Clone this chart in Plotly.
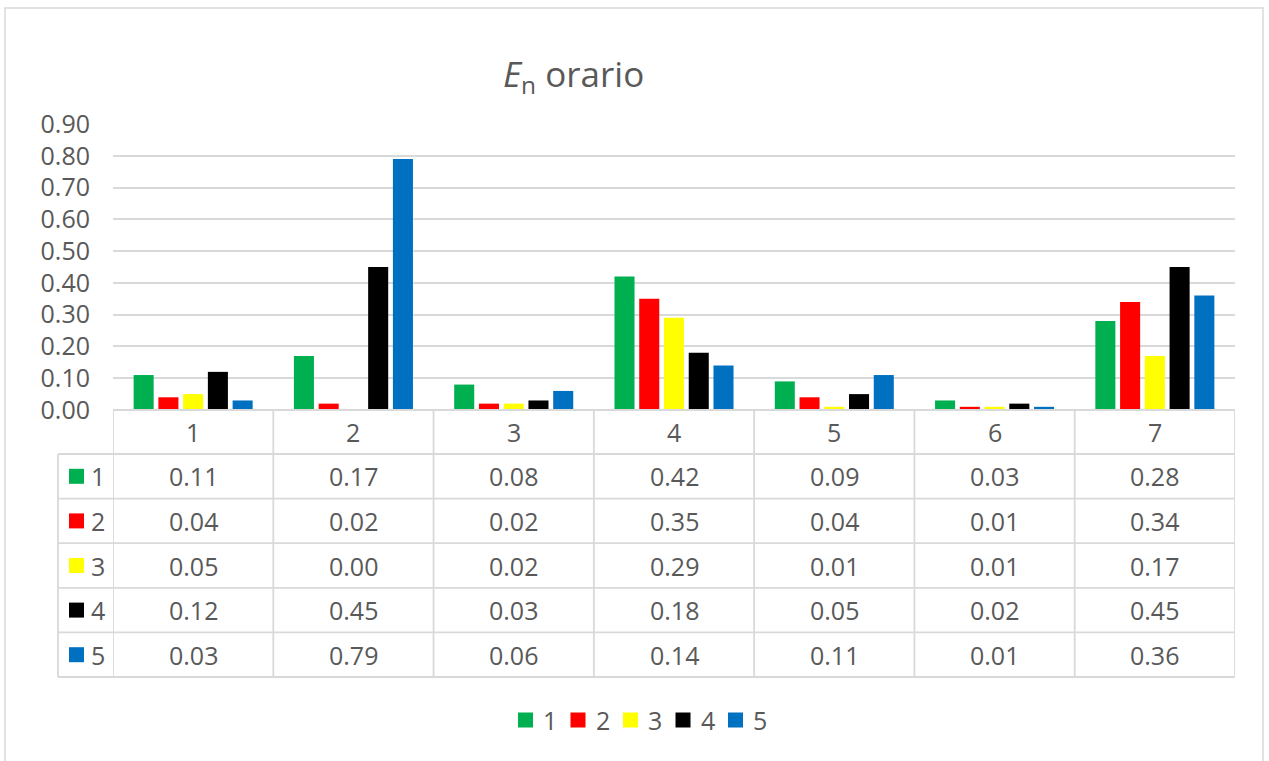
import plotly.graph_objects as go

# ---- data ----
categories = ["1", "2", "3", "4", "5", "6", "7"]
series_names = ["1", "2", "3", "4", "5"]
s1 = [0.11, 0.17, 0.08, 0.42, 0.09, 0.03, 0.28]
s2 = [0.04, 0.02, 0.02, 0.35, 0.04, 0.01, 0.34]
s3 = [0.05, 0.00, 0.02, 0.29, 0.01, 0.01, 0.17]
s4 = [0.12, 0.45, 0.03, 0.18, 0.05, 0.02, 0.45]
s5 = [0.03, 0.79, 0.06, 0.14, 0.11, 0.01, 0.36]
series_values = [s1, s2, s3, s4, s5]
colors = ["#00B050", "#FF0000", "#FFFF00", "#000000", "#0070C0"]
y_ticks = [0.0, 0.1, 0.2, 0.3, 0.4, 0.5, 0.6, 0.7, 0.8, 0.9]

# ---- layout geometry (pixels) ----
W, H = 1269, 761
L, R, T, B = 113, 1235, 124, 410
FONT = "Open Sans"
TXT = "#595959"
LINE = "#d9d9d9"
FS = 25


def px(x):
    return (x - L) / (R - L)


def py(y):
    return (B - y) / (B - T)


def label(x, y, text, size=FS, xref="paper", xanchor="center"):
    return dict(xref=xref, yref="paper", x=x, y=y, text=text, showarrow=False,
                xanchor=xanchor, yanchor="middle",
                font=dict(family=FONT, size=size, color=TXT))


fig = go.Figure()
for name, vals, col in zip(series_names, series_values, colors):
    fig.add_trace(go.Bar(x=categories, y=vals, name=name, marker_color=col,
                         marker_line_width=0, showlegend=False))

shapes = []
annotations = []

# outer border
shapes.append(dict(type="rect", xref="paper", yref="paper",
                   x0=px(5), x1=px(1263), y0=py(775), y1=py(8),
                   line=dict(color=LINE, width=1.5), layer="below"))

# table geometry
header_top, header_bot = 410, 454
row_bounds = [454, 498.6, 543.2, 587.8, 632.4, 677]
legend_left = 58

# horizontal table lines
shapes.append(dict(type="line", xref="paper", yref="paper", x0=0, x1=1,
                   y0=py(header_top), y1=py(header_top),
                   line=dict(color=LINE, width=1.8)))
for yb in row_bounds:
    shapes.append(dict(type="line", xref="paper", yref="paper",
                       x0=px(legend_left), x1=1, y0=py(yb), y1=py(yb),
                       line=dict(color=LINE, width=1.8)))
# vertical table lines
for i in range(len(categories) + 1):
    shapes.append(dict(type="line", xref="x", yref="paper",
                       x0=i - 0.5, x1=i - 0.5,
                       y0=py(header_top), y1=py(row_bounds[-1]),
                       line=dict(color=LINE, width=1.8)))
shapes.append(dict(type="line", xref="paper", yref="paper",
                   x0=px(legend_left), x1=px(legend_left),
                   y0=py(row_bounds[0]), y1=py(row_bounds[-1]),
                   line=dict(color=LINE, width=1.8)))

# header labels
for i, c in enumerate(categories):
    annotations.append(label(i, py((header_top + header_bot) / 2), c, xref="x"))

# table rows
for r, (name, vals, col) in enumerate(zip(series_names, series_values, colors)):
    yc = (row_bounds[r] + row_bounds[r + 1]) / 2
    shapes.append(dict(type="rect", xref="paper", yref="paper",
                       x0=px(69), x1=px(84), y0=py(yc + 7.5), y1=py(yc - 7.5),
                       fillcolor=col, line=dict(width=0)))
    annotations.append(label(px(98), py(yc), name))
    for i, v in enumerate(vals):
        annotations.append(label(i, py(yc), f"{v:.2f}", xref="x"))

# bottom legend
leg_y = 720
leg_x0 = 518
pitch = 52.5
for k, (name, col) in enumerate(zip(series_names, colors)):
    x0 = leg_x0 + k * pitch
    shapes.append(dict(type="rect", xref="paper", yref="paper",
                       x0=px(x0), x1=px(x0 + 15), y0=py(leg_y + 7.5), y1=py(leg_y - 7.5),
                       fillcolor=col, line=dict(width=0)))
    annotations.append(label(px(x0 + 23), py(leg_y), name, xanchor="left"))

# title
annotations.append(label(px(573), py(76), "<i>E</i><sub>n</sub> orario", size=35))

fig.update_layout(
    width=W, height=H,
    margin=dict(l=L, r=W - R, t=T, b=H - B, pad=0),
    paper_bgcolor="white", plot_bgcolor="white",
    barmode="group", bargap=0.228, bargroupgap=0.19,
    shapes=shapes, annotations=annotations,
    font=dict(family=FONT, color=TXT),
    xaxis=dict(type="category", showticklabels=False, showgrid=False,
               zeroline=False, showline=False, range=[-0.5, 6.5]),
    yaxis=dict(range=[0, 0.9], tickvals=y_ticks, tickformat=".2f",
               showgrid=True, gridcolor=LINE, gridwidth=1.5, zeroline=False,
               showline=False, ticks="", ticklabelstandoff=22,
               tickfont=dict(family=FONT, size=FS, color=TXT)),
)

fig.write_html("out.html", config={"displayModeBar": False},
               post_script="document.body.style.margin='0';")
